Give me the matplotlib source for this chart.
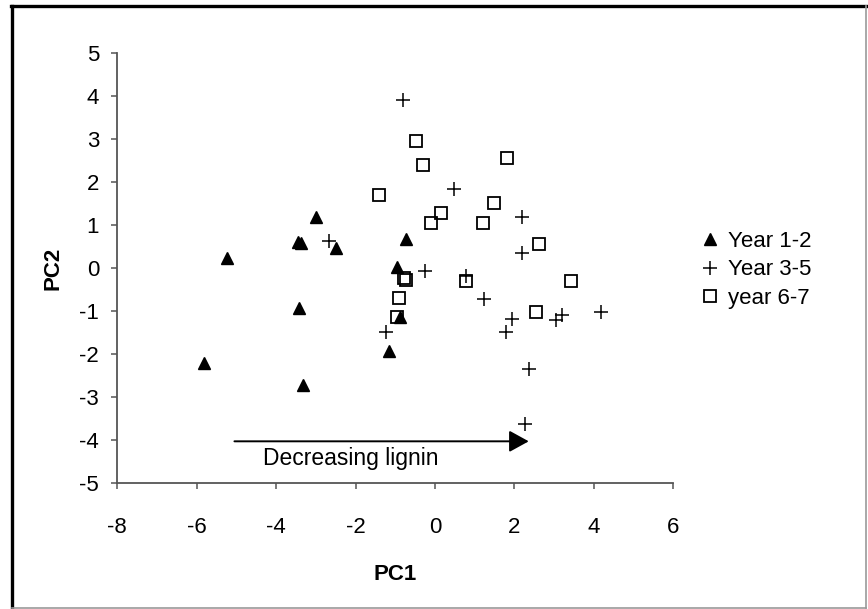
import matplotlib
matplotlib.use('Agg')
from matplotlib import pyplot as plt
from matplotlib.lines import Line2D

plt.rcParams['font.family'] = ['Liberation Sans', 'DejaVu Sans']
plt.rcParams['font.size'] = 16

##Data
yr12_pc1 = [-5.82, -5.23, -3.45, -3.38, -2.99, -2.50, -3.42, -3.32, -0.95, -0.74, -0.89, -1.15]
yr12_pc2 = [-2.20, 0.23, 0.62, 0.58, 1.20, 0.46, -0.92, -2.72, 0.02, 0.68, -1.13, -1.92]

yr35_pc1 = [-0.81, 0.49, 2.19, 2.19, -2.68, -0.24, 0.78, 1.24, 1.94, 1.80, 3.04, 3.19, 4.18, 2.37, 2.27, -1.23]
yr35_pc2 = [3.92, 1.84, 1.19, 0.36, 0.64, -0.06, -0.19, -0.72, -1.18, -1.49, -1.21, -1.10, -1.01, -2.35, -3.62, -1.49]

yr67_pc1 = [-0.48, -0.31, 1.81, -1.41, 1.49, 0.15, -0.10, 1.20, 2.61, -0.78, -0.73, 0.78, 3.43, -0.91, 2.55, -0.95]
yr67_pc2 = [2.95, 2.39, 2.56, 1.71, 1.52, 1.28, 1.05, 1.05, 0.56, -0.23, -0.27, -0.29, -0.29, -0.69, -1.01, -1.14]

labels = ['Year 1-2', 'Year 3-5', 'year 6-7']
x_ticks = [-8, -6, -4, -2, 0, 2, 4, 6]
y_ticks = [-5, -4, -3, -2, -1, 0, 1, 2, 3, 4, 5]

arrow_start = (-5.05, -4.03)
arrow_end = (2.36, -4.03)
arrow_text = 'Decreasing lignin'

##Plot##
fig = plt.figure(figsize=(8.68, 6.09), dpi=100)
ax = fig.add_axes([0.1351, 0.2069, 0.6406, 0.7056])

ax.plot(yr12_pc1, yr12_pc2, linestyle='none', marker='^', ms=9, color='black', label=labels[0])
ax.plot(yr35_pc1, yr35_pc2, linestyle='none', marker='+', ms=9.5, mew=1.1, color='black', label=labels[1])
ax.plot(yr67_pc1, yr67_pc2, linestyle='none', marker='s', ms=8, mew=1.3, mfc='none', mec='black', label=labels[2])

ax.annotate('', xy=arrow_end, xytext=arrow_start,
            arrowprops=dict(arrowstyle='-|>,head_length=0.4,head_width=0.22', mutation_scale=30,
                            lw=1.4, color='black', shrinkA=0, shrinkB=0))
ax.text(-4.33, -4.43, arrow_text, ha='left', va='center', fontsize=16.5)

ax.set_xlim(-8, 6)
ax.set_ylim(-5, 5)
ax.set_xticks(x_ticks)
ax.set_yticks(y_ticks)
ax.set_xticklabels([str(t) for t in x_ticks])
ax.set_yticklabels([str(t) for t in y_ticks])

axis_col = '#555555'
for s in ['top', 'right']:
    ax.spines[s].set_visible(False)
for s in ['left', 'bottom']:
    ax.spines[s].set_color(axis_col)
    ax.spines[s].set_linewidth(1.3)
ax.tick_params(axis='x', direction='out', length=4.5, width=1.1, color=axis_col, pad=20)
ax.tick_params(axis='y', direction='out', length=4, width=1.1, color=axis_col, pad=9)

ax.set_xlabel('PC1', fontweight='bold', va='center')
ax.xaxis.set_label_coords(0.5, -0.213)
ax.set_ylabel('PC2', fontweight='bold', va='center', ha='center')
ax.yaxis.set_label_coords(-0.115, 0.5)

ax.legend(loc='center left', bbox_to_anchor=(0.8053, 0.5567), bbox_transform=fig.transFigure,
          frameon=False, numpoints=1, markerscale=1.0, borderpad=0, borderaxespad=0,
          handlelength=1.0, handletextpad=0.3, labelspacing=0.35)

# chart border
W, H = 868.0, 609.0
fig.add_artist(Line2D([11.5 / W, 11.5 / W], [1 - 5.5 / H, 1 - 608 / H], color='black', lw=2.4))
fig.add_artist(Line2D([10.5 / W, 866 / W], [1 - 5.5 / H, 1 - 5.5 / H], color='black', lw=2.4))
fig.add_artist(Line2D([866 / W, 866 / W], [1 - 5.5 / H, 1 - 608 / H], color='#999999', lw=1.2))
fig.add_artist(Line2D([11.5 / W, 866 / W], [1 - 608 / H, 1 - 608 / H], color='#999999', lw=1.2))

plt.savefig('out.png', dpi=100)
